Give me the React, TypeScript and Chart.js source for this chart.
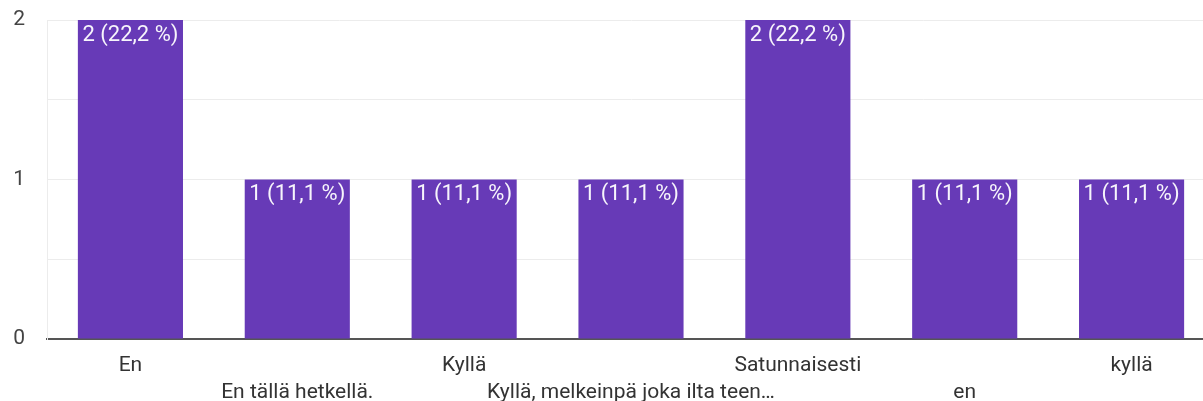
import React, { useEffect, useRef } from "react";
import { Chart, registerables } from "chart.js";

Chart.register(...registerables);

const categories = [
  "En",
  "En tällä hetkellä.",
  "Kyllä",
  "Kyllä, melkeinpä joka ilta teen…",
  "Satunnaisesti",
  "en",
  "kyllä",
];
const counts = [2, 1, 1, 1, 2, 1, 1];
const yTickValues = [0, 1, 2];

const FONT = "Roboto, 'Noto Sans', Arial, sans-serif";
const BAR_COLOR = "#673ab7";

const total = counts.reduce((a, b) => a + b, 0);
const valueLabel = (v: number) =>
  `${v} (${((v / total) * 100).toFixed(1).replace(".", ",")} %)`;

// Alternate the category labels between two rows so the long ones don't collide
const axisLabels = categories.map((c, i) => (i % 2 === 0 ? c : ["", c]));

const barValueLabels = {
  id: "barValueLabels",
  afterDatasetsDraw(chart: any) {
    const { ctx } = chart;
    const meta = chart.getDatasetMeta(0);
    ctx.save();
    ctx.font = `22px ${FONT}`;
    ctx.fillStyle = "rgba(255,255,255,0.95)";
    ctx.textAlign = "center";
    ctx.textBaseline = "top";
    meta.data.forEach((bar: any, i: number) => {
      ctx.fillText(valueLabel(counts[i]), bar.x, bar.y + 4);
    });
    ctx.restore();
  },
};

export default function App() {
  const canvasRef = useRef<HTMLCanvasElement | null>(null);

  useEffect(() => {
    if (!canvasRef.current) return;
    const chart = new Chart(canvasRef.current, {
      type: "bar",
      data: {
        labels: axisLabels as any,
        datasets: [
          {
            data: counts,
            backgroundColor: BAR_COLOR,
            borderWidth: 0,
            barPercentage: 0.63,
            categoryPercentage: 1,
          },
        ],
      },
      options: {
        animation: false,
        responsive: false,
        layout: { padding: { top: 20, left: 0, right: 0, bottom: 0 } },
        plugins: {
          legend: { display: false },
          tooltip: { enabled: false },
        },
        scales: {
          x: {
            grid: { display: false, drawTicks: false },
            border: { color: "#555", width: 2 },
            ticks: {
              autoSkip: false,
              maxRotation: 0,
              padding: 13,
              color: "#333",
              font: { family: FONT, size: 21, lineHeight: 1.29 },
            },
            afterFit(scale: any) {
              scale.height = 62;
            },
          },
          y: {
            min: 0,
            max: 2,
            grid: { color: "#ececec", lineWidth: 1, drawTicks: false },
            border: { color: "#ececec", width: 1 },
            ticks: {
              stepSize: 0.5,
              padding: 22,
              color: "#444",
              font: { family: FONT, size: 21 },
              callback: (v: any) => (yTickValues.includes(v) ? String(v) : ""),
            },
            afterFit(scale: any) {
              scale.width = 47;
              scale.paddingTop = 0;
              scale.paddingBottom = 0;
            },
          },
        },
      },
      plugins: [barValueLabels],
    });
    return () => chart.destroy();
  }, []);

  return (
    <div
      style={{
        position: "absolute",
        left: 0,
        top: 0,
        width: 1203,
        height: 401,
        overflow: "hidden",
        background: "#fff",
      }}
    >
      <canvas ref={canvasRef} width={1215} height={401} style={{ display: "block" }} />
    </div>
  );
}
